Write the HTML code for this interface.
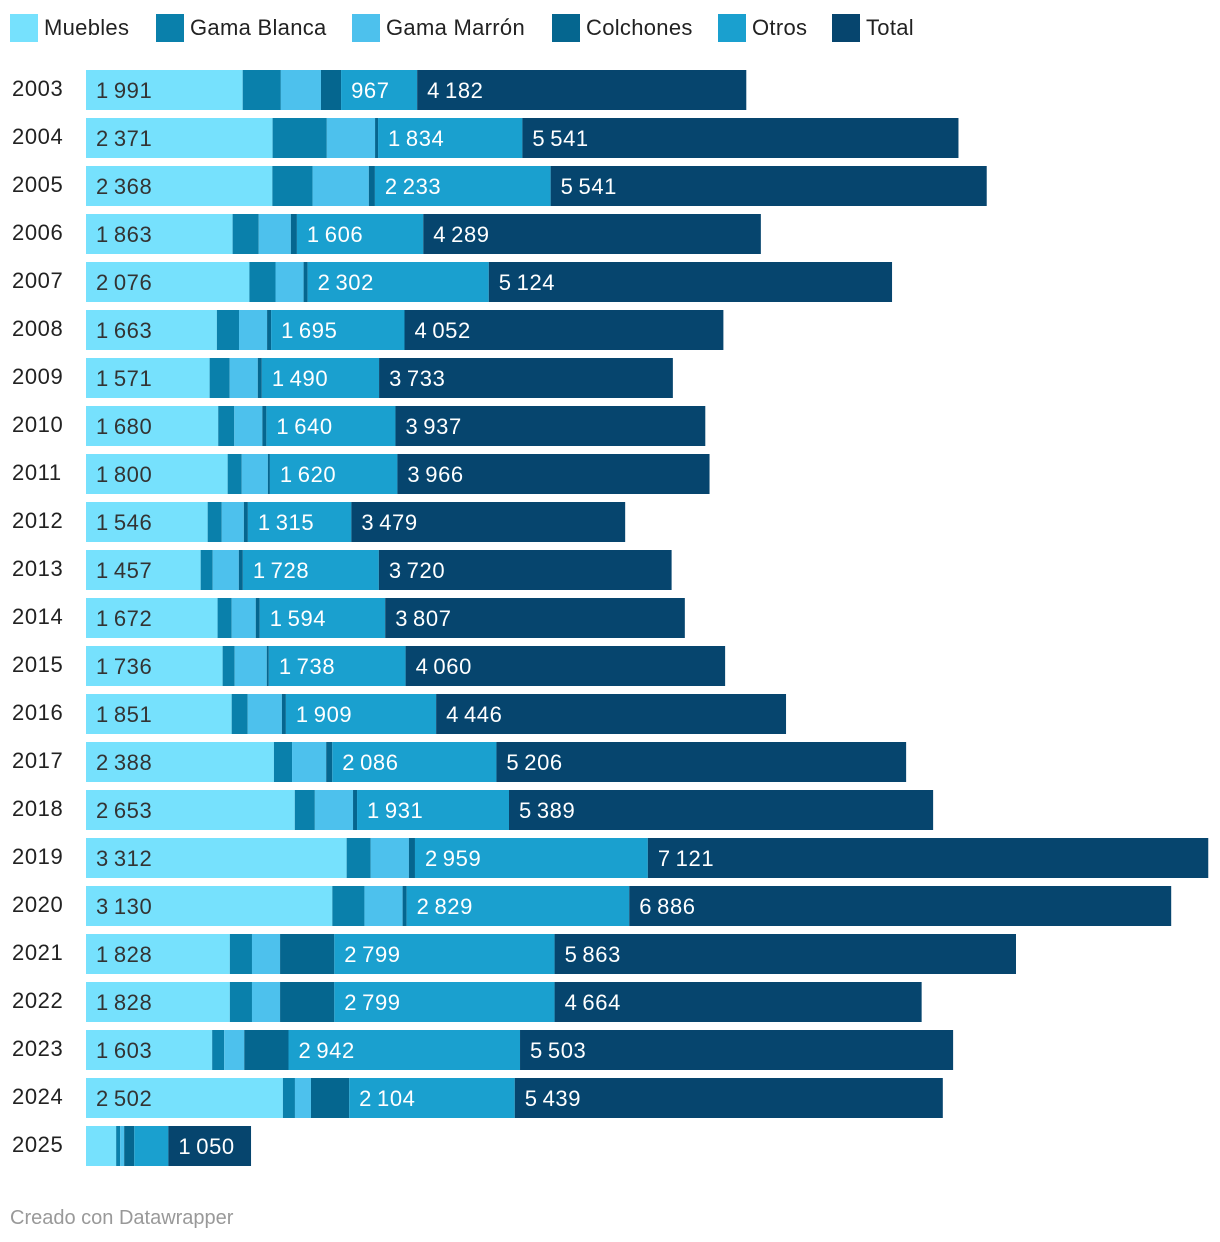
<!DOCTYPE html>
<html><head><meta charset="utf-8">
<style>
body{margin:0;width:1220px;height:1242px;background:#fff;font-family:"Liberation Sans",sans-serif;position:relative;overflow:hidden}
.leg{position:absolute;top:14px;height:28px;display:flex;align-items:center;font-size:22px;color:#222;letter-spacing:0.3px}
.leg span.sq{width:28px;height:28px;margin-right:6px;display:inline-block}
#foot{position:absolute;left:10px;top:1207px;font-size:20px;color:#999}
text{letter-spacing:0.6px}
</style></head><body>
<div id="legend"></div>
<svg id="chart" width="1220" height="1190" style="position:absolute;left:0;top:0"></svg>
<div id="foot">Creado con Datawrapper</div>
<script>
const years=[2003,2004,2005,2006,2007,2008,2009,2010,2011,2012,2013,2014,2015,2016,2017,2018,2019,2020,2021,2022,2023,2024,2025];
const muebles=[1991,2371,2368,1863,2076,1663,1571,1680,1800,1546,1457,1672,1736,1851,2388,2653,3312,3130,1828,1828,1603,2502,383];
const gamaBlanca=[485,689,511,332,332,281,255,204,179,179,153,179,153,204,230,255,306,408,281,281,153,153,51];
const gamaMarron=[510,613,715,408,357,357,357,357,332,281,332,306,408,434,434,485,485,485,357,357,255,204,51];
const colchones=[255,38,77,77,51,51,51,51,26,51,51,51,26,51,77,51,77,51,689,689,562,485,128];
const otros=[967,1834,2233,1606,2302,1695,1490,1640,1620,1315,1728,1594,1738,1909,2086,1931,2959,2829,2799,2799,2942,2104,434];
const total=[4182,5541,5541,4289,5124,4052,3733,3937,3966,3479,3720,3807,4060,4446,5206,5389,7121,6886,5863,4664,5503,5439,1050];
const seriesNames=["Muebles","Gama Blanca","Gama Marrón","Colchones","Otros","Total"];
const colors=["#76e1fd","#0a80ab","#4dc1ed","#05668f","#1aa0cf","#06456e"];
const series=[muebles,gamaBlanca,gamaMarron,colchones,otros,total];
const labelled=[true,false,false,false,true,true];
const X0=86,SCALE=0.0787,Y0=70,STEP=48,BH=40;
const x=v=>X0+v*SCALE;
const fmt=v=>String(v).replace(/\B(?=(\d{3})+(?!\d))/g,"\u2009");
const NS="http://www.w3.org/2000/svg";
const svg=document.getElementById("chart");
const legX=[10,156,352,552,718,832];
const leg=document.getElementById("legend");
seriesNames.forEach((n,i)=>{
  const d=document.createElement("div");d.className="leg";d.style.left=legX[i]+"px";
  
  
  d.innerHTML='<span class="sq" style="background:'+colors[i]+'"></span>'+n;
  leg.appendChild(d);
});
years.forEach((yr,r)=>{
  const y=Y0+r*STEP;
  const t=document.createElementNS(NS,"text");
  
  
  t.setAttribute("x",12);t.setAttribute("y",y+BH/2+6);t.setAttribute("font-size","22");t.setAttribute("fill","#222");
  t.textContent=yr;svg.appendChild(t);
  let acc=0;
  series.forEach((s,i)=>{
    const v=s[r],x1=x(acc),x2=x(acc+v);acc+=v;
    const rc=document.createElementNS(NS,"rect");
    
    
    rc.setAttribute("x",x1);rc.setAttribute("y",y);rc.setAttribute("width",Math.max(0,x2-x1));rc.setAttribute("height",BH);rc.setAttribute("fill",colors[i]);
    svg.appendChild(rc);
    if(labelled[i]&&x2-x1>55){
      const l=document.createElementNS(NS,"text");
      
      
      l.setAttribute("x",x1+10);l.setAttribute("y",y+BH/2+8);l.setAttribute("font-size","22");
      l.setAttribute("fill",i==0?"#333":"#fff");l.textContent=fmt(v);svg.appendChild(l);
    }
  });
});
</script>
</body></html>
